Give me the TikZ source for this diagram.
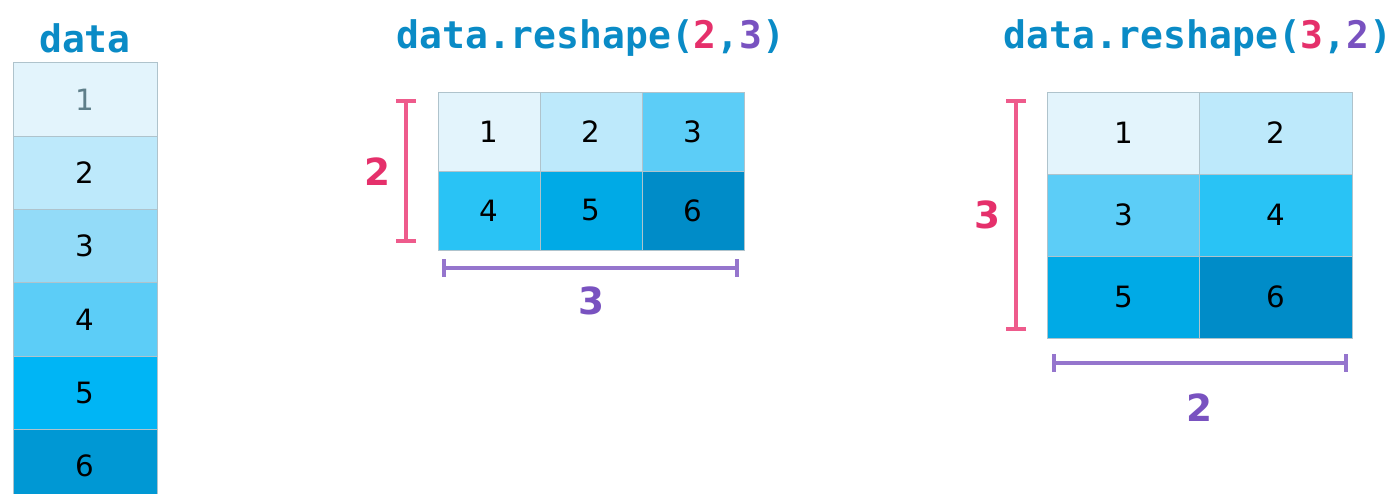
\documentclass[tikz,border=0pt]{standalone}
\usepackage{fontspec}
\setmainfont{DejaVu Sans}
\setmonofont{DejaVu Sans Mono}
\usetikzlibrary{positioning,arrows.meta}

\definecolor{codeblue}{HTML}{0A8BC6}
\definecolor{rowpink}{HTML}{EE5B8C}
\definecolor{rowpinktxt}{HTML}{E5306B}
\definecolor{colpurple}{HTML}{9575CD}
\definecolor{colpurpletxt}{HTML}{7952C0}
\definecolor{cellline}{HTML}{AFC3CC}
\definecolor{shadeA}{HTML}{E3F4FC}
\definecolor{shadeB}{HTML}{BDE9FB}
\definecolor{shadeC}{HTML}{93DBF8}
\definecolor{shadeD}{HTML}{5CCDF7}
\definecolor{shadeE}{HTML}{29C3F5}
\definecolor{shadeF}{HTML}{00B5F5}
\definecolor{shadeG}{HTML}{00AAE6}
\definecolor{shadeH}{HTML}{0098D4}
\definecolor{shadeI}{HTML}{008CC8}
\definecolor{faint}{HTML}{5F7F8A}

\begin{document}
\begin{tikzpicture}[x=0.75pt,y=-0.75pt,on grid,
	cell/.style={rectangle,draw=cellline,line width=0.7pt,inner sep=0pt,font=\fontsize{22}{26}\selectfont},
	colcell/.style={cell,minimum width=108pt,minimum height=55pt},
	widecell/.style={cell,minimum width=76.5pt,minimum height=59.25pt},
	tallcell/.style={cell,minimum width=114.4pt,minimum height=61.5pt},
	title/.style={font=\ttfamily\bfseries\fontsize{28.5}{32}\selectfont,text=codeblue},
	dimlab/.style={font=\bfseries\fontsize{28}{30}\selectfont},
	rowbar/.style={draw=rowpink,line width=3pt,{Bar[width=15pt,line width=3pt]}-{Bar[width=15pt,line width=3pt]}},
	colbar/.style={draw=colpurple,line width=3pt,{Bar[width=13pt,line width=3pt]}-{Bar[width=13pt,line width=3pt]}},
	]
	\useasboundingbox[fill=white] (0,0) rectangle (1396,493);

	% flat array
	\node[title] (tdata) at (85,38) {data};
	\node[colcell,fill=shadeA,text=faint] (a1) at (85,99.5) {1};
	\node[colcell,fill=shadeB,below=55pt of a1] (a2) {2};
	\node[colcell,fill=shadeC,below=55pt of a2] (a3) {3};
	\node[colcell,fill=shadeD,below=55pt of a3] (a4) {4};
	\node[colcell,fill=shadeF,below=55pt of a4] (a5) {5};
	\node[colcell,fill=shadeH,below=55pt of a5] (a6) {6};

	% reshape(2,3)
	\node[title] (tmid) at (591,38) {data.reshape(\textcolor{rowpinktxt}{2},\textcolor{colpurpletxt}{3})};
	\node[widecell,fill=shadeA] (m1) at (489,131.5) {1};
	\node[widecell,fill=shadeB,right=76.5pt of m1] (m2) {2};
	\node[widecell,fill=shadeD,right=76.5pt of m2] (m3) {3};
	\node[widecell,fill=shadeE,below=59.25pt of m1] (m4) {4};
	\node[widecell,fill=shadeG,right=76.5pt of m4] (m5) {5};
	\node[widecell,fill=shadeI,right=76.5pt of m5] (m6) {6};

	\coordinate (mtop) at (406,99);
	\coordinate (mbot) at (406,243);
	\coordinate (mleft) at (442,268);
	\coordinate (mright) at (739,268);
	\draw[rowbar] (mtop) -- (mbot);
	\draw[colbar] (mleft) -- (mright);
	\node[dimlab,text=rowpinktxt] (mrows) at (377,172) {2};
	\node[dimlab,text=colpurpletxt] (mcols) at (591,301) {3};

	% reshape(3,2)
	\node[title] (tright) at (1198,38) {data.reshape(\textcolor{rowpinktxt}{3},\textcolor{colpurpletxt}{2})};
	\node[tallcell,fill=shadeA] (r1) at (1123.5,133) {1};
	\node[tallcell,fill=shadeB,right=114.4pt of r1] (r2) {2};
	\node[tallcell,fill=shadeD,below=61.5pt of r1] (r3) {3};
	\node[tallcell,fill=shadeE,right=114.4pt of r3] (r4) {4};
	\node[tallcell,fill=shadeG,below=61.5pt of r3] (r5) {5};
	\node[tallcell,fill=shadeI,right=114.4pt of r5] (r6) {6};

	\coordinate (rtop) at (1016,99);
	\coordinate (rbot) at (1016,331);
	\coordinate (rleft) at (1052,363);
	\coordinate (rright) at (1348,363);
	\draw[rowbar] (rtop) -- (rbot);
	\draw[colbar] (rleft) -- (rright);
	\node[dimlab,text=rowpinktxt] (rrows) at (987,215) {3};
	\node[dimlab,text=colpurpletxt] (rcols) at (1199,408) {2};

\end{tikzpicture}
\end{document}
